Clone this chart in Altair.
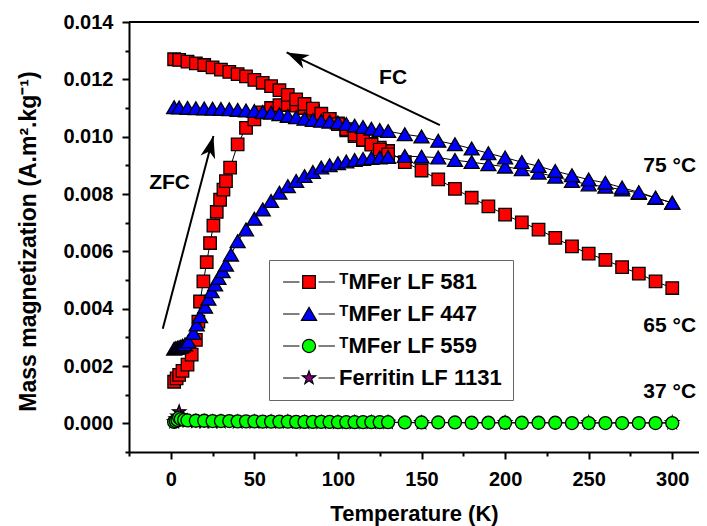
import altair as alt
import pandas as pd

FONT = "Liberation Sans"

series_names = ["ᵀMFer LF 581", "ᵀMFer LF 447", "ᵀMFer LF 559", "Ferritin LF 1131"]
series_colors = ["#ff0000", "#0000ff", "#00ff00", "#800080"]

# --- TMFer LF 581 (red squares), values in 1e-3 A.m2/kg
red_zfc_T = [2, 3.5, 5, 7, 10, 12.5, 15, 16.5, 17.5, 19.5, 21.5, 23.5, 25.5, 27.5, 29.5, 31.5, 33, 35.5,
             40, 45, 50, 55, 60, 65, 70, 75, 80, 85, 90, 95, 100, 105, 110, 115, 120, 125, 130,
             140, 150, 160, 170, 180, 190, 200, 210, 220, 230, 240, 250, 260, 270, 280, 290, 300]
red_zfc_M = [1.45, 1.57, 1.69, 1.83, 2.05, 2.40, 2.91, 3.55, 4.25, 4.95, 5.62, 6.29, 6.90, 7.38, 7.80, 8.15, 8.45, 8.92,
             9.73, 10.31, 10.60, 10.85, 11.00, 11.10, 11.12, 11.08, 11.00, 10.90, 10.78, 10.62, 10.46, 10.22, 10.02, 9.88, 9.75, 9.62, 9.50,
             9.11, 8.82, 8.51, 8.18, 7.87, 7.57, 7.28, 7.01, 6.76, 6.47, 6.17, 5.92, 5.70, 5.45, 5.22, 4.95, 4.72]
red_fc_T = [2, 5, 10, 15, 20, 25, 30, 35, 40, 45, 50, 55, 60, 65, 70, 75, 80, 85, 90, 95, 100, 105, 110, 115, 120, 125, 130]
red_fc_M = [12.70, 12.68, 12.62, 12.56, 12.50, 12.42, 12.34, 12.26, 12.18, 12.10, 11.98, 11.88, 11.76, 11.62, 11.46, 11.30,
            11.14, 10.98, 10.80, 10.62, 10.44, 10.26, 10.08, 9.90, 9.72, 9.55, 9.38]

# --- TMFer LF 447 (blue triangles)
blue_zfc_T = [2, 3, 4, 5, 6, 7, 8.5, 10.5, 13.5, 15.5, 17.5, 20.5, 22.5, 24.5, 26.5, 28.5, 31, 33, 36, 40,
              45, 50, 55, 60, 65, 70, 75, 80, 85, 90, 95, 100, 105, 110, 115, 120, 125, 130,
              140, 150, 160, 170, 180, 190, 200, 210, 220, 230, 240, 250, 260, 270, 280, 290, 300]
blue_zfc_M = [2.60, 2.62, 2.63, 2.65, 2.67, 2.70, 2.75, 2.85, 3.15, 3.44, 3.73, 4.06, 4.34, 4.60, 4.84, 5.07, 5.30, 5.53, 5.88, 6.35,
              6.76, 7.13, 7.46, 7.75, 8.04, 8.27, 8.45, 8.62, 8.76, 8.92, 9.00, 9.07, 9.13, 9.18, 9.22, 9.25, 9.27, 9.29,
              9.32, 9.30, 9.27, 9.18, 9.11, 9.03, 8.95, 8.86, 8.74, 8.60, 8.45, 8.33, 8.25, 8.15, 8.03, 7.86, 7.69]
blue_fc_T = [2, 5, 10, 15, 20, 25, 30, 35, 40, 45, 50, 55, 60, 65, 70, 75, 80, 85, 90, 95, 100, 105, 110, 115, 120, 125, 130,
             140, 150, 160, 170, 180, 190, 200, 210, 220, 230, 240, 250, 260, 270, 280, 290, 300]
blue_fc_M = [11.02, 11.01, 11.00, 10.99, 10.98, 10.97, 10.96, 10.95, 10.93, 10.91, 10.89, 10.86, 10.83, 10.78, 10.72, 10.67,
             10.62, 10.58, 10.55, 10.52, 10.49, 10.44, 10.38, 10.33, 10.27, 10.23, 10.19,
             10.08, 10.00, 9.85, 9.73, 9.58, 9.42, 9.27, 9.11, 8.97, 8.80, 8.65, 8.50, 8.39, 8.22, 8.06, 7.87, 7.69]

# --- TMFer LF 559 (green circles)
green_T = [2, 3, 4, 5, 6, 8, 10, 15, 20, 25, 30, 35, 40, 45, 50, 55, 60, 65, 70, 75, 80, 85, 90, 95, 100, 105, 110, 115, 120, 125, 130,
           140, 150, 160, 170, 180, 190, 200, 210, 220, 230, 240, 250, 260, 270, 280, 290, 300]
green_M = [0.05, 0.08, 0.12, 0.20, 0.15, 0.12, 0.10, 0.09, 0.09, 0.08, 0.08, 0.08, 0.07, 0.07, 0.07, 0.06, 0.06, 0.06, 0.06,
           0.05, 0.05, 0.05, 0.05, 0.05, 0.04, 0.04, 0.04, 0.04, 0.04, 0.04, 0.04,
           0.03, 0.03, 0.03, 0.03, 0.02, 0.02, 0.02, 0.02, 0.02, 0.02, 0.01, 0.01, 0.01, 0.01, 0.01, 0.01, 0.01]

# --- Ferritin LF 1131 (purple stars)
fer_T = [2, 3, 4, 5, 6, 8, 10, 15, 20, 25, 30, 40, 50, 60, 70, 80, 90, 100, 110, 120, 130, 150, 200, 250, 300]
fer_M = [0.05, 0.15, 0.25, 0.40, 0.20, 0.10, 0.08, 0.06, 0.05, 0.05, 0.05, 0.04, 0.04, 0.04, 0.04, 0.03, 0.03, 0.03, 0.03,
         0.03, 0.03, 0.02, 0.02, 0.02, 0.02]

# annotations
note_text = ["FC", "ZFC", "75 °C", "65 °C", "37 °C"]
note_T = [133, -0.7, 298.5, 298.5, 298.5]
note_M = [0.01206, 0.00837, 0.00898, 0.00341, 0.00110]

arrow_T = [161, -4.8]
arrow_M = [0.0104, 0.0033]
arrow_T2 = [69.3, 25.5]
arrow_M2 = [0.01294, 0.01002]
arrow_angle = [295.4, 14.7]

x_ticks = [-25, 0, 25, 50, 75, 100, 125, 150, 175, 200, 225, 250, 275, 300]
y_ticks = [-0.001, 0.0, 0.001, 0.002, 0.003, 0.004, 0.005, 0.006, 0.007, 0.008, 0.009, 0.010, 0.011, 0.012, 0.013, 0.014]
frame_top_value = [0.014]

rows = []
def add(name, branch, Ts, Ms):
    for t, m in zip(Ts, Ms):
        rows.append({"series": name, "key": name + branch, "T": t, "M": m * 1e-3})

add(series_names[0], "zfc", red_zfc_T, red_zfc_M)
add(series_names[0], "fc", red_fc_T, red_fc_M)
add(series_names[1], "zfc", blue_zfc_T, blue_zfc_M)
add(series_names[1], "fc", blue_fc_T, blue_fc_M)
add(series_names[3], "all", fer_T, fer_M)
add(series_names[2], "all", green_T, green_M)
df = pd.DataFrame(rows)

SQ = "M-1,-1H1V1H-1Z"
TRI = "M0,-1.05L1.2,1.0L-1.2,1.0Z"
CIR = "M1.04,0C1.04,0.574,0.574,1.04,0,1.04C-0.574,1.04,-1.04,0.574,-1.04,0C-1.04,-0.574,-0.574,-1.04,0,-1.04C0.574,-1.04,1.04,-0.574,1.04,0Z"
STAR = ("M0,-1.1L0.26,-0.36L1.05,-0.34L0.42,0.14L0.65,0.89L0,0.44L-0.65,0.89L-0.42,0.14L-1.05,-0.34L-0.26,-0.36Z")
data_shapes = [SQ, TRI, CIR, STAR]
LINES = "M-4.1,0H-1.5M1.5,0H4.1"
legend_shapes = [LINES + s for s in data_shapes]
ARROW = "M0,0L0.75,2.2L0,1.6L-0.75,2.2Z"

xscale = alt.Scale(domain=[-25, 316], nice=False, zero=False)
yscale = alt.Scale(domain=[-0.001, 0.014], nice=False, zero=False)

common_axis = dict(
    grid=False, domainColor="black", domainWidth=2, tickColor="black", tickWidth=2,
    labelFont=FONT, labelFontSize=20, labelFontWeight="bold", labelColor="black",
    labelOverlap=False, labelBound=False, labelFlush=False,
    titleFont=FONT, titleFontWeight="bold", titleColor="black",
)
xaxis = alt.Axis(
    values=x_ticks,
    labelExpr="datum.value % 50 == 0 ? datum.label : ''",
    tickSize={"condition": {"test": "datum.value % 50 != 0", "value": 4}, "value": 7},
    labelPadding=10, titleFontSize=22, titleY=68, titleBaseline="alphabetic",
    **common_axis,
)
yaxis = alt.Axis(
    values=y_ticks,
    labelExpr="abs(round(datum.value * 1000)) % 2 == 0 ? format(datum.value, '.3f') : ''",
    tickSize={"condition": {"test": "abs(round(datum.value * 1000)) % 2 == 1", "value": 4}, "value": 7},
    labelPadding=9, titleFontSize=23, titleX=-101, titleY=219, titleAngle=270, titleBaseline="middle",
    **common_axis,
)

X = alt.X("T:Q", scale=xscale, axis=xaxis, title="Temperature (K)")
Y = alt.Y("M:Q", scale=yscale, axis=yaxis, title="Mass magnetization (A.m².kg⁻¹)")

frame_top = alt.Chart(pd.DataFrame({"M": frame_top_value})).mark_rule(color="black", strokeWidth=2).encode(y=Y)

lines = alt.Chart(df).mark_line(color="black", strokeWidth=1).encode(
    x=X, y=Y, detail="key:N", order="T:Q"
)

points = alt.Chart(df).mark_point(filled=True, stroke="black", strokeWidth=1.3, opacity=1, size=156).encode(
    x=X, y=Y,
    shape=alt.Shape("series:N", scale=alt.Scale(domain=series_names, range=data_shapes), legend=None),
    fill=alt.Fill("series:N", scale=alt.Scale(domain=series_names, range=series_colors), legend=None),
)

leg = alt.Legend(
    orient="none", legendX=140, legendY=238, title=None,
    fillColor="white", strokeColor="#666666", padding=11,
    symbolSize=160, symbolStrokeColor="black", symbolStrokeWidth=1.2, symbolOpacity=1,
    symbolOffset=18, labelOffset=19,
    labelFont=FONT, labelFontSize=22, labelFontWeight="bold", labelColor="black", labelLimit=400,
    rowPadding=10,
)
first_rows = df.groupby("series", sort=False).head(1)
legend_layer = alt.Chart(first_rows).mark_point(filled=True, opacity=0).encode(
    x=X, y=Y,
    shape=alt.Shape("series:N", scale=alt.Scale(domain=series_names, range=legend_shapes), legend=leg, sort=series_names),
    fill=alt.Fill("series:N", scale=alt.Scale(domain=series_names, range=series_colors), legend=leg, sort=series_names),
    stroke=alt.Stroke("series:N", scale=alt.Scale(domain=series_names, range=["black"] * 4), legend=leg, sort=series_names),
)

arrows_df = pd.DataFrame({"T": arrow_T, "M": arrow_M, "T2": arrow_T2, "M2": arrow_M2, "ang": arrow_angle})
arrow_lines = alt.Chart(arrows_df).mark_rule(color="black", strokeWidth=2).encode(
    x=X, y=Y, x2="T2:Q", y2="M2:Q"
)
arrow_heads = alt.Chart(arrows_df).mark_point(filled=True, color="black", shape=ARROW, size=400, opacity=1).encode(
    x=alt.X("T2:Q", scale=xscale, axis=xaxis, title="Temperature (K)"),
    y=alt.Y("M2:Q", scale=yscale, axis=yaxis, title="Mass magnetization (A.m².kg⁻¹)"),
    angle=alt.Angle("ang:Q", scale=None),
)

notes_df = pd.DataFrame({"label": note_text, "T": note_T, "M": note_M})
notes = alt.Chart(notes_df).mark_text(
    font=FONT, fontSize=21, fontWeight="bold", color="black", align="center", baseline="middle"
).encode(x=X, y=Y, text="label:N")

chart = alt.layer(frame_top, lines, points, legend_layer, arrow_lines, arrow_heads, notes).resolve_scale(
    shape="independent", fill="independent", stroke="independent"
).properties(
    width=570, height=430,
    autosize=alt.AutoSizeParams(type="none"),
    padding={"left": 121, "top": 14, "right": 0, "bottom": 74},
).configure_view(stroke=None)

chart.save("out.html", embed_options={"renderer": "svg", "actions": False})
